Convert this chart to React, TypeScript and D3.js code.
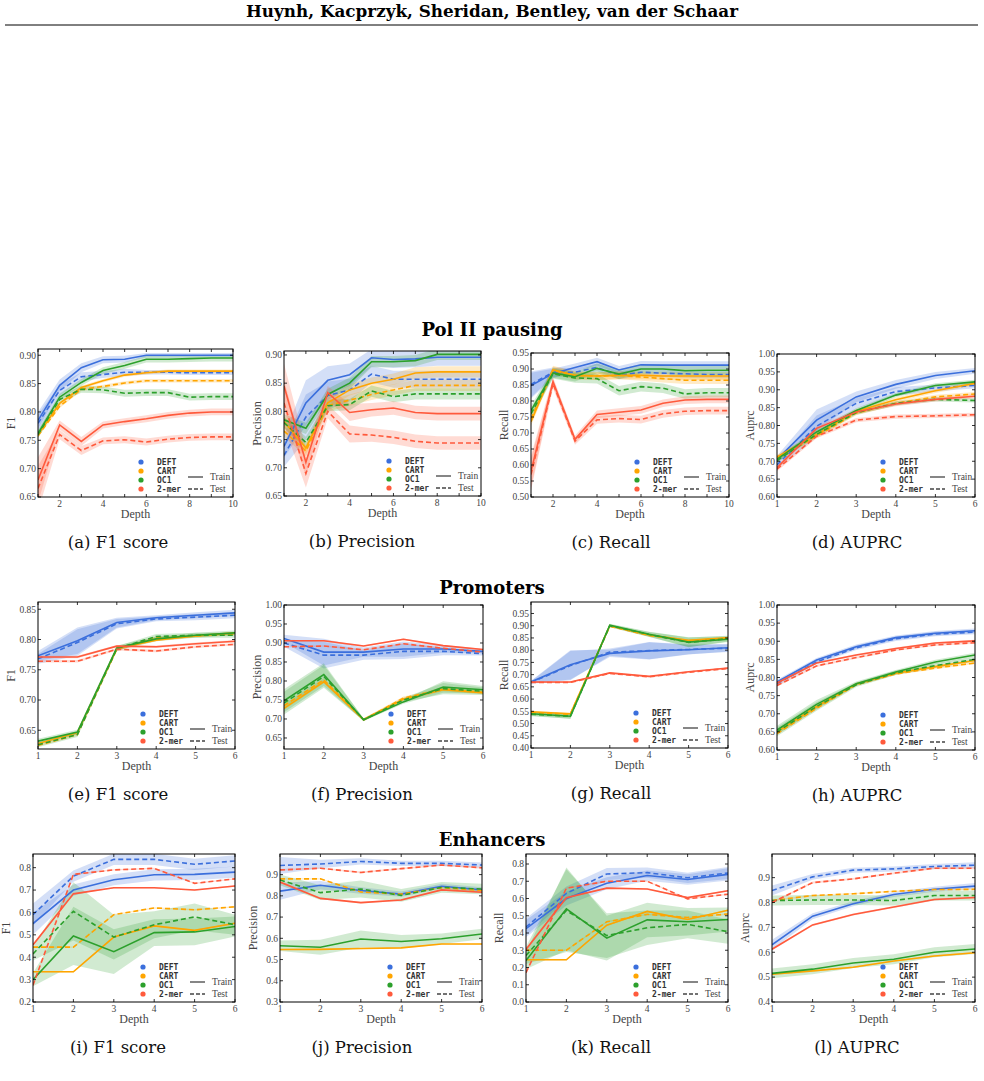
import * as d3 from 'd3';

// methods and their colours
const methods = ['DEFT', 'CART', 'OC1', '2-mer'];
const colors = ['#3b6fdc', '#ffa500', '#2ca02c', '#ff5a3c'];

const depths10 = [1, 2, 3, 4, 5, 6, 7, 8, 9, 10];
const depths6 = [1, 2, 3, 4, 5, 6];

// ---------- Pol II pausing ----------
const polF1Train = [
  [0.785, 0.847, 0.878, 0.892, 0.893, 0.9, 0.9, 0.9, 0.9, 0.9],
  [0.76, 0.815, 0.843, 0.855, 0.865, 0.869, 0.872, 0.872, 0.872, 0.872],
  [0.762, 0.826, 0.852, 0.873, 0.882, 0.893, 0.893, 0.894, 0.895, 0.895],
  [0.68, 0.777, 0.748, 0.777, 0.783, 0.788, 0.794, 0.798, 0.8, 0.8],
];
const polF1Test = [
  [0.78, 0.838, 0.862, 0.866, 0.87, 0.87, 0.87, 0.869, 0.869, 0.869],
  [0.758, 0.81, 0.84, 0.845, 0.851, 0.855, 0.855, 0.855, 0.855, 0.855],
  [0.76, 0.822, 0.84, 0.839, 0.833, 0.834, 0.834, 0.826, 0.827, 0.827],
  [0.665, 0.76, 0.732, 0.749, 0.751, 0.747, 0.752, 0.755, 0.756, 0.756],
];
const polF1Band = [[0.015, 0.01, 0.008, 0.006, 0.006, 0.004, 0.004, 0.004, 0.004, 0.004], 0.003, 0.006, [0.04, 0.008, 0.008, 0.006, 0.006, 0.006, 0.006, 0.006, 0.006, 0.006]];

const polPrecTrain = [
  [0.738, 0.815, 0.855, 0.865, 0.895, 0.892, 0.893, 0.896, 0.896, 0.896],
  [0.782, 0.735, 0.815, 0.838, 0.85, 0.857, 0.868, 0.87, 0.87, 0.87],
  [0.785, 0.77, 0.83, 0.85, 0.888, 0.888, 0.89, 0.901, 0.901, 0.901],
  [0.845, 0.71, 0.833, 0.798, 0.803, 0.806, 0.798, 0.796, 0.796, 0.796],
];
const polPrecTest = [
  [0.722, 0.79, 0.828, 0.838, 0.866, 0.857, 0.857, 0.857, 0.857, 0.857],
  [0.765, 0.73, 0.81, 0.82, 0.83, 0.838, 0.846, 0.846, 0.846, 0.846],
  [0.78, 0.745, 0.81, 0.812, 0.836, 0.826, 0.831, 0.831, 0.831, 0.831],
  [0.815, 0.69, 0.8, 0.76, 0.758, 0.754, 0.747, 0.744, 0.744, 0.744],
];
const polPrecBand = [[0.02, 0.04, 0.025, 0.02, 0.015, 0.015, 0.015, 0.015, 0.015, 0.015], 0.01, 0.01, [0.04, 0.025, 0.012, 0.015, 0.012, 0.012, 0.012, 0.012, 0.012, 0.012]];

const polRecTrain = [
  [0.848, 0.886, 0.905, 0.923, 0.897, 0.913, 0.912, 0.912, 0.912, 0.912],
  [0.735, 0.898, 0.88, 0.878, 0.88, 0.88, 0.878, 0.878, 0.878, 0.878],
  [0.77, 0.888, 0.876, 0.902, 0.884, 0.9, 0.9, 0.895, 0.896, 0.896],
  [0.58, 0.86, 0.68, 0.758, 0.765, 0.772, 0.793, 0.803, 0.805, 0.805],
];
const polRecTest = [
  [0.852, 0.89, 0.89, 0.905, 0.88, 0.89, 0.887, 0.885, 0.883, 0.883],
  [0.745, 0.895, 0.88, 0.878, 0.88, 0.875, 0.87, 0.865, 0.865, 0.865],
  [0.76, 0.885, 0.872, 0.87, 0.832, 0.845, 0.84, 0.822, 0.826, 0.826],
  [0.57, 0.855, 0.675, 0.741, 0.745, 0.742, 0.76, 0.768, 0.77, 0.77],
];
const polRecBand = [[0.04, 0.015, 0.012, 0.012, 0.012, 0.012, 0.012, 0.012, 0.012, 0.012], 0.012, 0.015, [0.05, 0.015, 0.012, 0.012, 0.012, 0.012, 0.012, 0.012, 0.012, 0.012]];

const polAucTrain = [
  [0.705, 0.815, 0.88, 0.915, 0.94, 0.953],
  [0.712, 0.775, 0.84, 0.872, 0.897, 0.918],
  [0.706, 0.782, 0.842, 0.885, 0.912, 0.922],
  [0.682, 0.792, 0.838, 0.86, 0.873, 0.882],
];
const polAucTest = [
  [0.69, 0.798, 0.862, 0.895, 0.905, 0.912],
  [0.708, 0.77, 0.835, 0.862, 0.88, 0.888],
  [0.702, 0.775, 0.836, 0.862, 0.873, 0.87],
  [0.678, 0.77, 0.815, 0.825, 0.827, 0.83],
];
const polAucBand = [[0.01, 0.03, 0.015, 0.012, 0.01, 0.008], 0.006, 0.006, 0.006];

// ---------- Promoters ----------
const proF1Train = [
  [0.773, 0.798, 0.828, 0.836, 0.84, 0.844],
  [0.628, 0.646, 0.785, 0.799, 0.806, 0.811],
  [0.632, 0.647, 0.786, 0.801, 0.807, 0.811],
  [0.771, 0.771, 0.789, 0.788, 0.793, 0.797],
];
const proF1Test = [
  [0.768, 0.795, 0.826, 0.834, 0.837, 0.84],
  [0.625, 0.643, 0.784, 0.803, 0.806, 0.809],
  [0.626, 0.643, 0.785, 0.805, 0.807, 0.807],
  [0.764, 0.764, 0.784, 0.781, 0.788, 0.792],
];
const proF1Band = [[0.008, 0.022, 0.008, 0.004, 0.005, 0.005], 0.002, 0.004, 0.002];

const proPrecTrain = [
  [0.912, 0.876, 0.876, 0.884, 0.884, 0.878],
  [0.728, 0.798, 0.698, 0.752, 0.777, 0.769],
  [0.748, 0.817, 0.698, 0.745, 0.784, 0.777],
  [0.906, 0.906, 0.892, 0.91, 0.893, 0.883],
];
const proPrecTest = [
  [0.9, 0.868, 0.868, 0.878, 0.878, 0.872],
  [0.735, 0.803, 0.698, 0.755, 0.779, 0.77],
  [0.742, 0.812, 0.698, 0.75, 0.78, 0.773],
  [0.89, 0.892, 0.882, 0.898, 0.886, 0.876],
];
const proPrecBand = [[0.01, 0.035, 0.012, 0.02, 0.01, 0.005], 0.004, [0.03, 0.03, 0.003, 0.005, 0.015, 0.01], 0.002];

const proRecTrain = [
  [0.67, 0.74, 0.787, 0.797, 0.802, 0.81],
  [0.548, 0.54, 0.9, 0.862, 0.84, 0.851],
  [0.54, 0.53, 0.902, 0.865, 0.833, 0.845],
  [0.67, 0.67, 0.707, 0.693, 0.712, 0.727],
];
const proRecTest = [
  [0.668, 0.737, 0.792, 0.798, 0.803, 0.808],
  [0.545, 0.538, 0.898, 0.86, 0.838, 0.85],
  [0.538, 0.53, 0.9, 0.864, 0.832, 0.847],
  [0.668, 0.668, 0.705, 0.691, 0.71, 0.725],
];
const proRecBand = [[0.005, 0.06, 0.015, 0.035, 0.02, 0.015], 0.004, [0.008, 0.01, 0.006, 0.01, 0.02, 0.012], 0.002];

const proAucTrain = [
  [0.788, 0.848, 0.885, 0.91, 0.922, 0.929],
  [0.65, 0.72, 0.782, 0.812, 0.83, 0.847],
  [0.655, 0.726, 0.783, 0.815, 0.843, 0.862],
  [0.785, 0.84, 0.862, 0.88, 0.895, 0.901],
];
const proAucTest = [
  [0.783, 0.843, 0.882, 0.907, 0.92, 0.925],
  [0.645, 0.715, 0.78, 0.81, 0.826, 0.84],
  [0.65, 0.72, 0.78, 0.813, 0.833, 0.85],
  [0.778, 0.832, 0.855, 0.876, 0.89, 0.896],
];
const proAucBand = [0.006, 0.003, [0.012, 0.012, 0.006, 0.006, 0.006, 0.006], 0.003];

// ---------- Enhancers ----------
const enhF1Train = [
  [0.55, 0.7, 0.746, 0.768, 0.77, 0.78],
  [0.335, 0.335, 0.49, 0.54, 0.52, 0.552],
  [0.3, 0.495, 0.425, 0.51, 0.513, 0.537],
  [0.455, 0.683, 0.71, 0.71, 0.7, 0.718],
];
const enhF1Test = [
  [0.59, 0.762, 0.837, 0.837, 0.815, 0.83],
  [0.445, 0.445, 0.59, 0.62, 0.612, 0.625],
  [0.415, 0.605, 0.49, 0.545, 0.58, 0.545],
  [0.275, 0.77, 0.79, 0.797, 0.73, 0.75],
];
const enhF1Band = [[0.05, 0.025, 0.025, 0.025, 0.025, 0.025], 0.003, [0.03, 0.13, 0.1, 0.06, 0.06, 0.045], 0.003];

const enhPrecTrain = [
  [0.822, 0.85, 0.825, 0.808, 0.845, 0.828],
  [0.547, 0.548, 0.552, 0.555, 0.573, 0.573],
  [0.565, 0.558, 0.597, 0.585, 0.598, 0.62],
  [0.865, 0.788, 0.768, 0.78, 0.828, 0.817],
];
const enhPrecTest = [
  [0.943, 0.95, 0.962, 0.953, 0.953, 0.945],
  [0.88, 0.88, 0.818, 0.808, 0.838, 0.825],
  [0.875, 0.815, 0.832, 0.802, 0.84, 0.832],
  [0.922, 0.93, 0.91, 0.928, 0.945, 0.932],
];
const enhPrecBand = [[0.04, 0.02, 0.015, 0.012, 0.012, 0.012], 0.003, [0.025, 0.035, 0.04, 0.03, 0.025, 0.025], 0.004];

const enhRecTrain = [
  [0.425, 0.6, 0.688, 0.733, 0.71, 0.74],
  [0.245, 0.245, 0.445, 0.525, 0.478, 0.532],
  [0.24, 0.54, 0.37, 0.476, 0.465, 0.478],
  [0.305, 0.605, 0.66, 0.655, 0.605, 0.645],
];
const enhRecTest = [
  [0.435, 0.63, 0.742, 0.75, 0.72, 0.748],
  [0.3, 0.3, 0.465, 0.508, 0.49, 0.51],
  [0.27, 0.53, 0.385, 0.43, 0.45, 0.408],
  [0.17, 0.66, 0.7, 0.7, 0.598, 0.625],
];
const enhRecBand = [[0.05, 0.04, 0.035, 0.03, 0.03, 0.035], 0.004, [0.05, 0.24, 0.13, 0.1, 0.08, 0.07], 0.004];

const enhAucTrain = [
  [0.63, 0.745, 0.795, 0.832, 0.853, 0.866],
  [0.512, 0.525, 0.54, 0.565, 0.585, 0.598],
  [0.515, 0.532, 0.557, 0.572, 0.6, 0.613],
  [0.612, 0.71, 0.752, 0.782, 0.812, 0.82],
];
const enhAucTest = [
  [0.848, 0.903, 0.93, 0.935, 0.945, 0.95],
  [0.808, 0.828, 0.835, 0.845, 0.852, 0.853],
  [0.808, 0.81, 0.81, 0.808, 0.828, 0.828],
  [0.8, 0.88, 0.895, 0.918, 0.938, 0.938],
];
const enhAucBand = [[0.02, 0.012, 0.01, 0.01, 0.01, 0.012], 0.003, 0.02, 0.004];

// y-axis tick labels
const ticksF1Pol = [0.65, 0.7, 0.75, 0.8, 0.85, 0.9];
const ticksRecPol = [0.5, 0.55, 0.6, 0.65, 0.7, 0.75, 0.8, 0.85, 0.9, 0.95];
const ticksAuc = [0.6, 0.65, 0.7, 0.75, 0.8, 0.85, 0.9, 0.95, 1.0];
const ticksF1Pro = [0.65, 0.7, 0.75, 0.8, 0.85];
const ticksPrecPro = [0.65, 0.7, 0.75, 0.8, 0.85, 0.9, 0.95, 1.0];
const ticksRecPro = [0.4, 0.45, 0.5, 0.55, 0.6, 0.65, 0.7, 0.75, 0.8, 0.85, 0.9, 0.95];
const ticksF1Enh = [0.2, 0.3, 0.4, 0.5, 0.6, 0.7, 0.8];
const ticksPrecEnh = [0.3, 0.4, 0.5, 0.6, 0.7, 0.8, 0.9];
const ticksRecEnh = [0, 0.1, 0.2, 0.3, 0.4, 0.5, 0.6, 0.7, 0.8];
const ticksAucEnh = [0.4, 0.5, 0.6, 0.7, 0.8, 0.9];

type Band = number | number[];
interface PanelSpec {
  box: [number, number, number, number]; // left, right, top, bottom
  xs: number[];
  yDomain: [number, number];
  yTicks: number[];
  yFmt: string;
  yLabel: string;
  caption: string;
  train: number[][];
  test: number[][];
  band: Band[];
}

const panels: PanelSpec[] = [
  { box: [38, 233, 349, 497], xs: depths10, yDomain: [0.65, 0.911], yTicks: ticksF1Pol, yFmt: '.2f', yLabel: 'F1', caption: '(a) F1 score', train: polF1Train, test: polF1Test, band: polF1Band },
  { box: [284, 481, 351, 496], xs: depths10, yDomain: [0.65, 0.907], yTicks: ticksF1Pol, yFmt: '.2f', yLabel: 'Precision', caption: '(b) Precision', train: polPrecTrain, test: polPrecTest, band: polPrecBand },
  { box: [531, 729, 353, 497], xs: depths10, yDomain: [0.5, 0.95], yTicks: ticksRecPol, yFmt: '.2f', yLabel: 'Recall', caption: '(c) Recall', train: polRecTrain, test: polRecTest, band: polRecBand },
  { box: [777, 975, 354, 497], xs: depths6, yDomain: [0.6, 1.0], yTicks: ticksAuc, yFmt: '.2f', yLabel: 'Auprc', caption: '(d) AUPRC', train: polAucTrain, test: polAucTest, band: polAucBand },
  { box: [38, 235, 602, 749], xs: depths6, yDomain: [0.619, 0.862], yTicks: ticksF1Pro, yFmt: '.2f', yLabel: 'F1', caption: '(e) F1 score', train: proF1Train, test: proF1Test, band: proF1Band },
  { box: [284, 483, 605, 749], xs: depths6, yDomain: [0.621, 1.0], yTicks: ticksPrecPro, yFmt: '.2f', yLabel: 'Precision', caption: '(f) Precision', train: proPrecTrain, test: proPrecTest, band: proPrecBand },
  { box: [531, 728, 602, 748], xs: depths6, yDomain: [0.4, 0.997], yTicks: ticksRecPro, yFmt: '.2f', yLabel: 'Recall', caption: '(g) Recall', train: proRecTrain, test: proRecTest, band: proRecBand },
  { box: [777, 975, 605, 750], xs: depths6, yDomain: [0.6, 1.0], yTicks: ticksAuc, yFmt: '.2f', yLabel: 'Auprc', caption: '(h) AUPRC', train: proAucTrain, test: proAucTest, band: proAucBand },
  { box: [33, 235, 854, 1002], xs: depths6, yDomain: [0.2, 0.861], yTicks: ticksF1Enh, yFmt: '.1f', yLabel: 'F1', caption: '(i) F1 score', train: enhF1Train, test: enhF1Test, band: enhF1Band },
  { box: [280, 482, 854, 1002], xs: depths6, yDomain: [0.3, 0.997], yTicks: ticksPrecEnh, yFmt: '.1f', yLabel: 'Precision', caption: '(j) Precision', train: enhPrecTrain, test: enhPrecTest, band: enhPrecBand },
  { box: [526, 728, 854, 1002], xs: depths6, yDomain: [0, 0.858], yTicks: ticksRecEnh, yFmt: '.1f', yLabel: 'Recall', caption: '(k) Recall', train: enhRecTrain, test: enhRecTest, band: enhRecBand },
  { box: [772, 975, 854, 1002], xs: depths6, yDomain: [0.4, 0.995], yTicks: ticksAucEnh, yFmt: '.1f', yLabel: 'Auprc', caption: '(l) AUPRC', train: enhAucTrain, test: enhAucTest, band: enhAucBand },
];

// sub-figure captions sit under the whole sub-figure, y label included
const captionX = [118, 362, 611, 857];

const sections = [
  { title: 'Pol II pausing', y: 336 },
  { title: 'Promoters', y: 594 },
  { title: 'Enhancers', y: 846 },
];

const serif = '"Liberation Serif", "DejaVu Serif", serif';
const wideSerif = '"DejaVu Serif", "Liberation Serif", serif';
const mono = '"DejaVu Sans Mono", "Liberation Mono", monospace';

const spreadAt = (b: Band, i: number) => (Array.isArray(b) ? b[i] : b);

function Panel({ p, idx }: { p: PanelSpec; idx: number }) {
  const [l, r, t, b] = p.box;
  const xMax = p.xs[p.xs.length - 1];
  const x = d3.scaleLinear().domain([1, xMax]).range([l, r]);
  const y = d3.scaleLinear().domain(p.yDomain).range([b, t]);
  const fmt = d3.format(p.yFmt);
  const xLabels = xMax === 10 ? [2, 4, 6, 8, 10] : depths6;
  const clipId = `clip-${idx}`;

  const line = d3.line<number>().x((_, i) => x(p.xs[i])).y((v) => y(v));
  const area = (vals: number[], band: Band) =>
    d3.area<number>()
      .x((_, i) => x(p.xs[i]))
      .y0((v, i) => y(v - spreadAt(band, i)))
      .y1((v, i) => y(v + spreadAt(band, i)))(vals) || '';

  const cx = (l + r) / 2;
  const cy = (t + b) / 2;

  return (
    <g>
      <defs>
        <clipPath id={clipId}>
          <rect x={l} y={t} width={r - l} height={b - t} />
        </clipPath>
      </defs>
      <g clipPath={`url(#${clipId})`}>
        {methods.map((m, k) => (
          <g key={`band-${m}`} fill={colors[k]} fillOpacity={0.22}>
            <path d={area(p.train[k], p.band[k])} />
            <path d={area(p.test[k], p.band[k])} />
          </g>
        ))}
        {methods.map((m, k) => (
          <g key={`line-${m}`} fill="none" stroke={colors[k]} strokeWidth={1.6}>
            <path d={line(p.train[k]) || ''} />
            <path d={line(p.test[k]) || ''} strokeDasharray="5,3" />
          </g>
        ))}
      </g>

      {/* frame and ticks */}
      <rect x={l} y={t} width={r - l} height={b - t} fill="none" stroke="#000" strokeWidth={1} />
      {p.yTicks.map((v) => (
        <g key={`yt-${v}`}>
          <line x1={l} x2={l + 3} y1={y(v)} y2={y(v)} stroke="#000" strokeWidth={0.8} />
          <line x1={r} x2={r - 3} y1={y(v)} y2={y(v)} stroke="#000" strokeWidth={0.8} />
          <text x={l - 2} y={y(v) + 3.3} textAnchor="end" fontSize={9.5} fill="#444" fontFamily={serif}>
            {fmt(v)}
          </text>
        </g>
      ))}
      {p.xs.map((v) => (
        <g key={`xt-${v}`}>
          <line x1={x(v)} x2={x(v)} y1={b} y2={b - 3} stroke="#000" strokeWidth={0.8} />
          <line x1={x(v)} x2={x(v)} y1={t} y2={t + 3} stroke="#000" strokeWidth={0.8} />
        </g>
      ))}
      {xLabels.map((v) => (
        <text key={`xl-${v}`} x={x(v)} y={b + 10} textAnchor="middle" fontSize={9.5} fill="#444" fontFamily={serif}>
          {v}
        </text>
      ))}
      <text x={cx} y={b + 21} textAnchor="middle" fontSize={12} fill="#444" fontFamily={serif}>
        Depth
      </text>
      <text transform={`translate(${l - 23},${cy}) rotate(-90)`} textAnchor="middle" fontSize={12} fill="#444" fontFamily={serif}>
        {p.yLabel}
      </text>

      {/* legend */}
      {methods.map((m, k) => (
        <g key={`lg-${m}`}>
          <circle cx={r - 92} cy={b - 35 + k * 9} r={2.6} fill={colors[k]} />
          <text x={r - 76} y={b - 32 + k * 9} fontSize={8} fontWeight="bold" fill="#333" fontFamily={mono}>
            {m}
          </text>
        </g>
      ))}
      <line x1={r - 45} x2={r - 30} y1={b - 20} y2={b - 20} stroke="#444" strokeWidth={1.3} />
      <line x1={r - 45} x2={r - 30} y1={b - 8} y2={b - 8} stroke="#444" strokeWidth={1.3} strokeDasharray="4,2" />
      <text x={r - 23} y={b - 17} fontSize={9.5} fill="#444" fontFamily={serif}>Train</text>
      <text x={r - 23} y={b - 5} fontSize={9.5} fill="#444" fontFamily={serif}>Test</text>

      <text x={captionX[idx % 4]} y={b + 51} textAnchor="middle" fontSize={16.5} fill="#111" fontFamily={wideSerif}>
        {p.caption}
      </text>
    </g>
  );
}

export default function App() {
  return (
    <div style={{ position: 'absolute', left: 0, top: 0 }}>
      <svg width={984} height={1081} style={{ display: 'block', background: '#fff' }}>
        <text x={492} y={17} textAnchor="middle" fontSize={16.8} fontWeight="bold" fontFamily={wideSerif} fill="#000">
          Huynh, Kacprzyk, Sheridan, Bentley, van der Schaar
        </text>
        <line x1={5} x2={978} y1={25} y2={25} stroke="#000" strokeWidth={1} />
        {sections.map((s) => (
          <text key={s.title} x={492} y={s.y} textAnchor="middle" fontSize={18} fontWeight="bold" fontFamily={wideSerif} fill="#000">
            {s.title}
          </text>
        ))}
        {panels.map((p, i) => (
          <Panel key={p.caption} p={p} idx={i} />
        ))}
      </svg>
    </div>
  );
}
